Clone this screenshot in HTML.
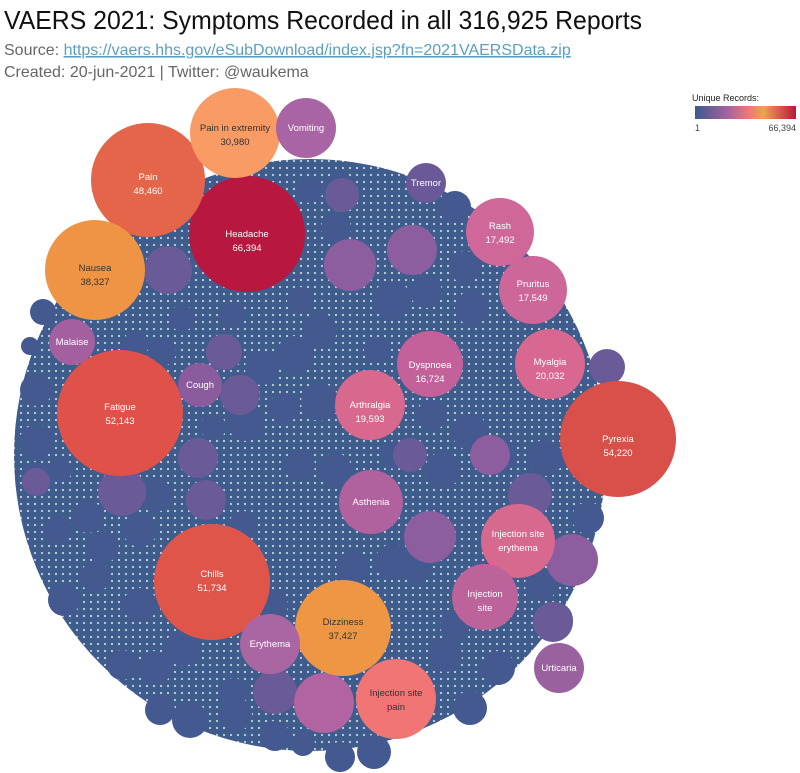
<!DOCTYPE html>
<html><head><meta charset="utf-8"><style>
body{margin:0;width:800px;height:773px;background:#fff;overflow:hidden;font-family:"Liberation Sans",sans-serif}
</style></head><body>
<svg width="800" height="773" xmlns="http://www.w3.org/2000/svg" style="position:absolute;left:0;top:0">
<defs>
<pattern id="p" width="7" height="7" patternUnits="userSpaceOnUse">
<rect width="7" height="7" fill="#3f5d8c"/>
<circle cx="0" cy="0" r="1.1" fill="#c9d0dc"/><circle cx="7" cy="0" r="1.1" fill="#c9d0dc"/><circle cx="0" cy="7" r="1.1" fill="#c9d0dc"/><circle cx="7" cy="7" r="1.1" fill="#c9d0dc"/>
</pattern>
</defs>
<text x="4" y="29" font-size="26" fill="#111" textLength="638" lengthAdjust="spacingAndGlyphs">VAERS 2021: Symptoms Recorded in all 316,925 Reports</text>
<text x="4" y="55" font-size="16" fill="#666">Source: <tspan fill="#5a9fc0" text-decoration="underline">https://vaers.hhs.gov/eSubDownload/index.jsp?fn=2021VAERSData.zip</tspan></text>
<text x="4" y="77" font-size="16" fill="#666">Created: 20-jun-2021 | Twitter: @waukema</text>
<defs><linearGradient id="g"><stop offset="0" stop-color="#3b5a8d"/><stop offset="0.3" stop-color="#a060a0"/><stop offset="0.55" stop-color="#f37a74"/><stop offset="0.68" stop-color="#f3a050"/><stop offset="1" stop-color="#b8173f"/></linearGradient></defs>
<text x="692" y="101" font-size="9" fill="#222">Unique Records:</text>
<rect x="695" y="106" width="101" height="13" fill="url(#g)"/>
<text x="695" y="131" font-size="9" fill="#444">1</text>
<text x="796" y="131" font-size="9" fill="#444" text-anchor="end">66,394</text>
<circle cx="310" cy="455" r="296" fill="url(#p)"/>
<g fill="#44598f">
<circle cx="340" cy="190" r="17"/><circle cx="310" cy="190" r="13"/><circle cx="455" cy="207" r="16"/><circle cx="336" cy="228" r="15"/>
<circle cx="465" cy="267" r="16"/><circle cx="392" cy="300" r="19"/><circle cx="426" cy="292" r="16"/><circle cx="472" cy="308" r="17"/>
<circle cx="295" cy="355" r="19"/><circle cx="320" cy="330" r="17"/><circle cx="225" cy="352" r="18"/><circle cx="162" cy="352" r="14"/>
<circle cx="320" cy="402" r="19"/><circle cx="284" cy="408" r="15"/><circle cx="246" cy="422" r="19"/><circle cx="213" cy="427" r="13"/>
<circle cx="262" cy="368" r="17"/><circle cx="335" cy="470" r="17"/><circle cx="300" cy="465" r="15"/><circle cx="432" cy="415" r="15"/>
<circle cx="470" cy="432" r="18"/><circle cx="500" cy="455" r="17"/><circle cx="395" cy="455" r="14"/><circle cx="443" cy="470" r="18"/>
<circle cx="588" cy="518" r="16"/><circle cx="545" cy="458" r="18"/><circle cx="541" cy="585" r="16"/><circle cx="555" cy="620" r="18"/>
<circle cx="498" cy="668" r="17"/><circle cx="445" cy="655" r="17"/><circle cx="470" cy="708" r="17"/><circle cx="455" cy="625" r="15"/>
<circle cx="36" cy="390" r="16"/><circle cx="36" cy="442" r="17"/><circle cx="37" cy="478" r="16"/><circle cx="88" cy="517" r="16"/>
<circle cx="58" cy="530" r="14"/><circle cx="103" cy="547" r="16"/><circle cx="140" cy="530" r="17"/><circle cx="155" cy="495" r="17"/>
<circle cx="95" cy="577" r="15"/><circle cx="64" cy="600" r="16"/><circle cx="140" cy="605" r="17"/><circle cx="183" cy="648" r="18"/>
<circle cx="122" cy="665" r="15"/><circle cx="155" cy="668" r="17"/><circle cx="160" cy="710" r="15"/><circle cx="190" cy="720" r="18"/>
<circle cx="236" cy="715" r="16"/><circle cx="234" cy="692" r="14"/><circle cx="275" cy="736" r="15"/><circle cx="303" cy="744" r="12"/>
<circle cx="340" cy="757" r="15"/><circle cx="374" cy="752" r="17"/><circle cx="416" cy="568" r="15"/><circle cx="393" cy="562" r="18"/>
<circle cx="43" cy="312" r="13"/><circle cx="30" cy="346" r="9"/><circle cx="182" cy="318" r="13"/><circle cx="136" cy="344" r="13"/>
<circle cx="233" cy="315" r="13"/><circle cx="300" cy="300" r="13"/><circle cx="377" cy="350" r="13"/><circle cx="352" cy="567" r="16"/>
<circle cx="598" cy="403" r="12"/><circle cx="60" cy="470" r="12"/><circle cx="243" cy="525" r="14"/><circle cx="275" cy="605" r="13"/>
</g>
<g fill="#6a5a98">
<circle cx="168" cy="270" r="24"/><circle cx="607" cy="367" r="18"/><circle cx="122" cy="492" r="24"/><circle cx="240" cy="395" r="20"/>
<circle cx="206" cy="500" r="20"/><circle cx="198" cy="458" r="20"/><circle cx="275" cy="692" r="22"/><circle cx="553" cy="622" r="20"/>
<circle cx="530" cy="495" r="22"/><circle cx="224" cy="352" r="18"/><circle cx="36" cy="482" r="14"/><circle cx="410" cy="455" r="17"/>
<circle cx="342" cy="195" r="17"/>
</g>
<g fill="#8c5e9f">
<circle cx="350" cy="265" r="26"/><circle cx="412" cy="250" r="25"/><circle cx="430" cy="537" r="26"/><circle cx="572" cy="560" r="26"/><circle cx="490" cy="455" r="20"/>
</g>
<circle cx="324" cy="703" r="30" fill="#b163a2"/>
<circle cx="247" cy="234" r="58" fill="#b8173f"/>
<circle cx="148" cy="180" r="57" fill="#e5654a"/>
<circle cx="235" cy="133" r="45" fill="#f99b65"/>
<circle cx="306" cy="128" r="30" fill="#a965a3"/>
<circle cx="95" cy="270" r="50" fill="#ee9444"/>
<circle cx="72" cy="342" r="23" fill="#a45f9f"/>
<circle cx="120" cy="413" r="63" fill="#e0514a"/>
<circle cx="200" cy="385" r="22" fill="#8a5b9d"/>
<circle cx="426" cy="183" r="20" fill="#6a5898"/>
<circle cx="500" cy="232" r="34" fill="#cf6798"/>
<circle cx="533" cy="290" r="34" fill="#cd6699"/>
<circle cx="550" cy="364" r="35" fill="#d86890"/>
<circle cx="430" cy="364" r="33" fill="#c5619a"/>
<circle cx="370" cy="405" r="35" fill="#d9688f"/>
<circle cx="618" cy="439" r="58" fill="#d94f49"/>
<circle cx="371" cy="502" r="32" fill="#b0619e"/>
<circle cx="518" cy="541" r="37" fill="#d8698e"/>
<circle cx="485" cy="597" r="33" fill="#bd639b"/>
<circle cx="212" cy="582" r="58" fill="#e05549"/>
<circle cx="343" cy="628" r="48" fill="#ef9645"/>
<circle cx="270" cy="644" r="30" fill="#a966a2"/>
<circle cx="396" cy="699" r="40" fill="#f27576"/>
<circle cx="559" cy="668" r="25" fill="#9a619f"/>
<g font-size="9.5" text-anchor="middle" fill="#fff">
<text x="247" y="237">Headache</text><text x="247" y="251">66,394</text>
<text x="148" y="180">Pain</text><text x="148" y="194">48,460</text>
<text x="235" y="131" fill="#333">Pain in extremity</text><text x="235" y="145" fill="#333">30,980</text>
<text x="306" y="131">Vomiting</text>
<text x="95" y="271" fill="#333">Nausea</text><text x="95" y="285" fill="#333">38,327</text>
<text x="72" y="345">Malaise</text>
<text x="120" y="410">Fatigue</text><text x="120" y="424">52,143</text>
<text x="200" y="388">Cough</text>
<text x="426" y="186">Tremor</text>
<text x="500" y="229">Rash</text><text x="500" y="243">17,492</text>
<text x="533" y="287">Pruritus</text><text x="533" y="301">17,549</text>
<text x="550" y="365">Myalgia</text><text x="550" y="379">20,032</text>
<text x="430" y="368">Dyspnoea</text><text x="430" y="382">16,724</text>
<text x="370" y="408">Arthralgia</text><text x="370" y="422">19,593</text>
<text x="618" y="442">Pyrexia</text><text x="618" y="456">54,220</text>
<text x="371" y="505">Asthenia</text>
<text x="518" y="537">Injection site</text><text x="518" y="551">erythema</text>
<text x="485" y="597">Injection</text><text x="485" y="611">site</text>
<text x="212" y="577">Chills</text><text x="212" y="591">51,734</text>
<text x="343" y="625" fill="#333">Dizziness</text><text x="343" y="639" fill="#333">37,427</text>
<text x="270" y="647">Erythema</text>
<text x="396" y="696" fill="#333">Injection site</text><text x="396" y="710" fill="#333">pain</text>
<text x="559" y="671">Urticaria</text>
</g>
</svg>
</body></html>
